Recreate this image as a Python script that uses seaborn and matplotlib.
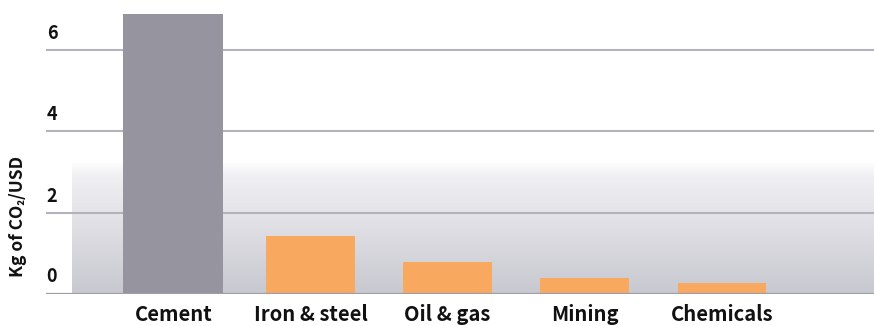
import numpy as np
import pandas as pd
import matplotlib
matplotlib.use("Agg")
import matplotlib.pyplot as plt
from matplotlib.colors import LinearSegmentedColormap
import seaborn as sns

categories = ["Cement", "Iron & steel", "Oil & gas", "Mining", "Chemicals"]
values = [6.88, 1.43, 0.79, 0.40, 0.27]
bar_colors = ["#95949f", "#f9a860", "#f9a860", "#f9a860", "#f9a860"]
yticks = [0, 2, 4, 6]
ylabel = "Kg of CO\u2082/USD"

sns.set_theme(style="white")
plt.rcParams["font.family"] = ["Noto Sans CJK SC", "Lato", "DejaVu Sans"]

df = pd.DataFrame({"category": categories, "value": values})

fig = plt.figure(figsize=(8.74, 3.26), dpi=100)
ax = fig.add_axes([46 / 874, 32 / 326, 828 / 874, 294 / 326])

# gradient backdrop
cmap = LinearSegmentedColormap.from_list(
    "bg", [(0.0, "#c8c8d0"), (0.9, "#f0f0f3"), (1.0, "#fdfdfd")])
grad = np.linspace(0, 1, 256).reshape(-1, 1)
ax.imshow(grad, extent=[-0.743, 5.2, 0, 3.2], origin="lower", aspect="auto",
          cmap=cmap, zorder=0, interpolation="bicubic")

first = df.iloc[:1]
rest = df.iloc[1:]
pal = dict(zip(categories, bar_colors))
sns.barplot(data=first, x="category", y="value", hue="category", order=categories,
            palette=pal, width=0.73, legend=False, linewidth=0,
            ax=ax, saturation=1, zorder=2)
sns.barplot(data=rest, x="category", y="value", hue="category", order=categories,
            palette=pal, width=0.645, legend=False, linewidth=0,
            ax=ax, saturation=1, zorder=2)

ax.set_xlim(-0.93, 5.111)
ax.set_ylim(0, 7.22)

for s in ax.spines.values():
    s.set_visible(False)

ax.set_yticks(yticks)
ax.set_yticklabels([])
ax.tick_params(axis="both", length=0)
for v in yticks[1:]:
    ax.axhline(v, color="#b4b3bb", lw=1.5, zorder=1)
ax.axhline(0, color="#9f9ea8", lw=1.6, zorder=3)

for v in yticks:
    ax.annotate(str(v), xy=(0.0, v), xycoords=ax.get_yaxis_transform(),
                xytext=(0.5, 5 if v else 6), textcoords="offset points",
                ha="left", va="bottom", fontsize=13, fontweight="bold", color="#111111")

ax.set_xlabel("")
ax.set_ylabel("")
ax.set_xticks(range(len(categories)))
ax.set_xticklabels(categories, fontsize=14.5, fontweight="bold", color="#111111")
ax.tick_params(axis="x", pad=7)

fig.text(18 / 874, 1 - 216 / 326, ylabel, rotation=90, ha="center", va="center",
         fontsize=12.5, fontweight="bold", color="#111111")

fig.savefig("out.png", dpi=100)
